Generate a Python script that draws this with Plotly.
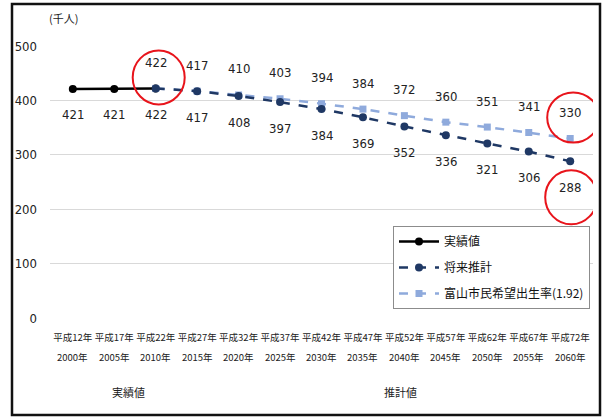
import plotly.graph_objects as go

# ---- data ----
heisei = ["平成12年", "平成17年", "平成22年", "平成27年", "平成32年", "平成37年", "平成42年",
          "平成47年", "平成52年", "平成57年", "平成62年", "平成67年", "平成72年"]
seireki = ["2000年", "2005年", "2010年", "2015年", "2020年", "2025年", "2030年",
           "2035年", "2040年", "2045年", "2050年", "2055年", "2060年"]
jisseki = [421, 421, 422]                      # 2000-2010
suikei = [422, 417, 408, 397, 384, 369, 352, 336, 321, 306, 288]   # 2010-2060
kibou = [422, 417, 410, 403, 394, 384, 372, 360, 351, 341, 330]    # 2010-2060
y_ticks = [0, 100, 200, 300, 400, 500]

W, H = 608, 418
ML, MR, MT, MB = 50, 15, 46, 100
PW, PH = W - ML - MR, H - MT - MB

def px_x(p):
    return (p - ML) / PW

def px_y(p):
    return (H - MB - p) / PH

x_j = list(range(len(jisseki)))
x_f = list(range(len(jisseki) - 1, len(heisei)))

num_font = "DejaVu Sans Condensed, Liberation Sans Narrow, Arial"
cjk = "Noto Sans CJK JP"

fig = go.Figure()
fig.add_trace(go.Scatter(x=x_j, y=jisseki, mode="lines+markers", name="実績値",
                         line=dict(color="#000000", width=2.5),
                         marker=dict(symbol="circle", size=8, color="#000000"),
                         legendrank=1, legendgroup="a"))
fig.add_trace(go.Scatter(x=x_f, y=kibou, mode="lines+markers", name="富山市民希望出生率(1.92)",
                         line=dict(color="#8FAADC", width=2.5, dash="dash"),
                         marker=dict(symbol="square", size=7, color="#8FAADC"),
                         legendrank=3, legendgroup="c"))
fig.add_trace(go.Scatter(x=x_f, y=suikei, mode="lines+markers", name="将来推計",
                         line=dict(color="#1F3864", width=2.5, dash="dash"),
                         marker=dict(symbol="circle", size=8, color="#1F3864"),
                         legendrank=2, legendgroup="b"))

ann = []
lab_font = dict(family=num_font, size=13, color="#222222")
for xi, v in zip(x_j[:-1], jisseki[:-1]):
    ann.append(dict(x=xi, y=v, text=str(v), showarrow=False, yshift=-26, font=lab_font))
for xi, v in zip(x_f, suikei):
    ann.append(dict(x=xi, y=v, text=str(v), showarrow=False, yshift=-26, font=lab_font))
for xi, v in zip(x_f, kibou):
    ann.append(dict(x=xi, y=v, text=str(v), showarrow=False, yshift=26, font=lab_font))
for xi, s in enumerate(seireki):
    ann.append(dict(x=xi, y=px_y(357), xref="x", yref="paper", yanchor="middle", text=s,
                    showarrow=False, font=dict(family=cjk, size=9.5, color="#222222")))
ann.append(dict(x=px_x(110), y=px_y(392), xref="paper", yref="paper", yanchor="middle",
                text="実績値", showarrow=False, font=dict(family=cjk, size=11, color="#222222")))
ann.append(dict(x=px_x(400), y=px_y(392), xref="paper", yref="paper", yanchor="middle",
                text="推計値", showarrow=False, font=dict(family=cjk, size=11, color="#222222")))
ann.append(dict(x=px_x(47), y=px_y(18), xref="paper", yref="paper", yanchor="middle",
                text="(千人)", showarrow=False, font=dict(family=cjk, size=11, color="#222222")))

shapes = []
# outer frame
shapes.append(dict(type="rect", xref="paper", yref="paper",
                   x0=px_x(12), x1=px_x(600), y0=px_y(415), y1=px_y(4),
                   line=dict(color="#111111", width=2.5), layer="above"))
# red circles around highlighted labels
def circ(xi, v, dx, dy, rx, ry):
    return dict(type="circle", xref="x", yref="y", xsizemode="pixel", ysizemode="pixel",
                xanchor=xi, yanchor=v, x0=dx - rx, x1=dx + rx, y0=dy - ry, y1=dy + ry,
                line=dict(color="#E8141B", width=2), layer="above")
shapes.append(circ(x_f[0], kibou[0], 3, 11, 26, 27))
shapes.append(circ(x_f[-1], kibou[-1], 3, 21, 26, 25))
shapes.append(circ(x_f[-1], suikei[-1], 1, -36, 26, 27))

fig.update_layout(
    width=W, height=H,
    margin=dict(l=ML, r=MR, t=MT, b=MB),
    paper_bgcolor="white", plot_bgcolor="white",
    showlegend=True,
    legend=dict(x=px_x(393), y=px_y(226), xanchor="left", yanchor="top",
                bgcolor="white", bordercolor="#8c8c8c", borderwidth=1,
                font=dict(family=cjk, size=12, color="#111111"),
                traceorder="grouped", tracegroupgap=7, itemwidth=40),
    xaxis=dict(range=[-0.55, 12.55], tickmode="array", tickvals=list(range(len(heisei))),
               ticktext=heisei, showgrid=False, zeroline=False, showline=False,
               ticks="", ticklabelstandoff=12, tickangle=0,
               tickfont=dict(family=cjk, size=9.5, color="#222222")),
    yaxis=dict(range=[0, 500], tickvals=y_ticks, showgrid=True, gridcolor="#D9D9D9",
               gridwidth=1, zeroline=False, showline=False, ticks="",
               ticklabelstandoff=12,
               tickfont=dict(family=num_font, size=13, color="#222222")),
    annotations=ann, shapes=shapes,
)

fig.write_html("out.html")
